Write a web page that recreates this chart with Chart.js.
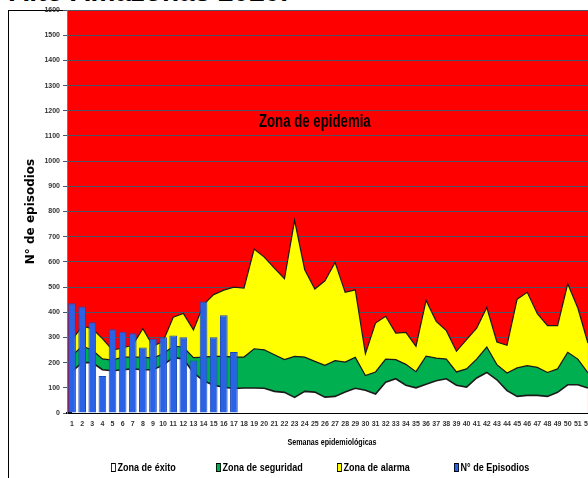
<!DOCTYPE html>
<html>
<head>
<meta charset="utf-8">
<script src="https://cdn.jsdelivr.net/npm/chart.js@4.4.1/dist/chart.umd.min.js"></script>
<style>
  html, body { margin: 0; padding: 0; background: #fff; }
  body { width: 588px; height: 478px; overflow: hidden; position: relative; }
  #titulo { position: absolute; left: 9px; top: -22px; font: bold 28px 'Liberation Sans', Arial, sans-serif; line-height: 28px; white-space: nowrap; color: #000; }
  #marco { position: absolute; left: 8px; top: 10px; width: 700px; height: 600px; border-left: 1px solid #000; border-top: 1px solid #000; }
  #caja { position: absolute; left: 0; top: 0; width: 600px; height: 478px; }
  .item { position: absolute; top: 460px; height: 14px; display: flex; align-items: center; font: bold 11px 'Liberation Sans', Arial, sans-serif; color: #000; white-space: nowrap; transform: scaleX(0.82); transform-origin: left center; }
  .item i { display: inline-block; width: 4px; height: 7px; border: 1px solid #000; margin-right: 2px; }
</style>
</head>
<body>
<div id="titulo">Alto Amazonas 2020.</div>
<div id="marco"></div>
<div id="caja"><canvas id="canal" width="600" height="478"></canvas></div>
<div id="leyenda"></div>
<script>
/* eslint-disable no-undef */
// semanas epidemiologicas 1..52
const semanas = []
for (let s = 1; s <= 52; s++) semanas.push(String(s))

// limites superiores de cada zona del canal endemico
const limiteExito = [165, 200, 200, 172, 168, 172, 175, 172, 172, 190, 220, 215, 160, 128, 110, 102, 97, 99, 99, 98,
  86, 82, 62, 86, 83, 63, 66, 83, 98, 90, 75, 122, 136, 110, 100, 114, 128, 136, 110, 103,
  139, 161, 132, 89, 66, 70, 70, 66, 82, 112, 112, 99]
const limiteSeguridad = [228, 265, 250, 215, 210, 222, 222, 222, 218, 235, 265, 262, 220, 222, 225, 225, 222, 222, 255, 251,
  231, 212, 225, 222, 205, 189, 208, 202, 221, 149, 163, 214, 212, 193, 164, 226, 218, 214, 163, 175,
  214, 262, 192, 159, 179, 188, 181, 161, 175, 241, 214, 159]
const limiteAlarma = [290, 345, 335, 295, 250, 258, 270, 335, 265, 285, 380, 395, 330, 430, 470, 488, 500, 496, 651, 619,
  575, 533, 765, 569, 492, 525, 598, 479, 489, 235, 357, 384, 317, 320, 265, 447, 364, 327, 245, 291,
  337, 419, 282, 269, 452, 479, 394, 347, 347, 513, 417, 278]
// episodios notificados 2020 (hasta la semana 17)
const episodios = [436, 423, 360, 147, 333, 323, 317, 260, 295, 301, 308, 301, 208, 443, 301, 388, 242]

const sans = "'Liberation Sans', Arial, sans-serif"

// texto angosto (no hay fuentes narrow instaladas)
function textoAngosto (ctx, texto, x, y, px, sx) {
  ctx.save()
  ctx.font = 'bold ' + px + 'px ' + sans
  ctx.fillStyle = '#000'
  ctx.textAlign = 'center'
  ctx.textBaseline = 'middle'
  ctx.translate(x, y)
  ctx.scale(sx, 1)
  ctx.fillText(texto, 0, 0)
  ctx.restore()
}

// fondo rojo = zona de epidemia
const fondoEpidemia = {
  id: 'fondoEpidemia',
  beforeDraw (chart) {
    const { ctx, chartArea } = chart
    ctx.save()
    ctx.fillStyle = '#ff0000'
    ctx.fillRect(chartArea.left, chartArea.top, chartArea.right - chartArea.left, chartArea.bottom - chartArea.top)
    ctx.restore()
  }
}

// rotulos: "Zona de epidemia" y titulo del eje x
const rotulos = {
  id: 'rotulos',
  afterDraw (chart) {
    const { ctx, scales } = chart
    textoAngosto(ctx, 'Zona de epidemia', scales.x.getPixelForValue(24), scales.y.getPixelForValue(1155), 18, 0.735)
    textoAngosto(ctx, 'Semanas epidemiológicas', (scales.x.left + scales.x.right) / 2 + 2, 442, 9.5, 0.75)
  }
}

const linea = '#1a1a1a'
const ctx1 = document.getElementById('canal').getContext('2d')
const myChart1 = new Chart(ctx1, {
  data: {
    labels: semanas,
    datasets: [
      { type: 'line', label: 'Zona de éxito', data: limiteExito, order: 1, fill: 'origin', backgroundColor: '#ffffff', borderColor: linea, borderWidth: 1.6, pointRadius: 0, tension: 0 },
      { type: 'line', label: 'Zona de seguridad', data: limiteSeguridad, order: 2, fill: '-1', backgroundColor: '#00b050', borderColor: linea, borderWidth: 1.2, pointRadius: 0, tension: 0 },
      { type: 'line', label: 'Zona de alarma', data: limiteAlarma, order: 3, fill: '-1', backgroundColor: '#ffff00', borderColor: linea, borderWidth: 1.2, pointRadius: 0, tension: 0 },
      { type: 'bar', label: 'N°  de Episodios', data: episodios, order: 0, backgroundColor: '#2a62e6', borderColor: '#1c48b8', borderWidth: 1, categoryPercentage: 1, barPercentage: 0.76 }
    ]
  },
  options: {
    responsive: false,
    animation: false,
    layout: { padding: { left: 0, top: 10, right: 7, bottom: 25 } },
    plugins: { legend: { display: false }, tooltip: { enabled: false } },
    scales: {
      x: {
        offset: true,
        grid: { display: false, drawTicks: false },
        border: { color: '#000', width: 2 },
        ticks: { autoSkip: false, maxRotation: 0, padding: 7, color: '#333', font: { family: sans, size: 7, weight: 'bold' } },
        afterFit (scale) { scale.height = 40 }
      },
      y: {
        min: 0,
        max: 1600,
        ticks: { stepSize: 100, padding: 3, color: '#333', font: { family: sans, size: 7, weight: 'bold' }, callback: (v) => String(v) },
        grid: { color: '#4a5566', lineWidth: 1, tickLength: 4 },
        border: { color: '#7a7a7a' },
        title: { display: true, text: 'N° de episodios', color: '#000', padding: { top: 24, bottom: 0 }, font: { family: "'DejaVu Sans', sans-serif", size: 12, weight: 'bold' } },
        afterFit (scale) { scale.width = 67 }
      }
    }
  },
  plugins: [fondoEpidemia, rotulos]
})

// leyenda en html, debajo del grafico
const posiciones = [111, 216, 337, 454]
const leyenda = document.getElementById('leyenda')
myChart1.data.datasets.forEach((ds, i) => {
  const d = document.createElement('div')
  d.className = 'item'
  d.style.left = posiciones[i] + 'px'
  const b = document.createElement('i')
  b.style.background = ds.backgroundColor
  d.appendChild(b)
  d.appendChild(document.createTextNode(ds.label))
  leyenda.appendChild(d)
})
</script>
</body>
</html>
